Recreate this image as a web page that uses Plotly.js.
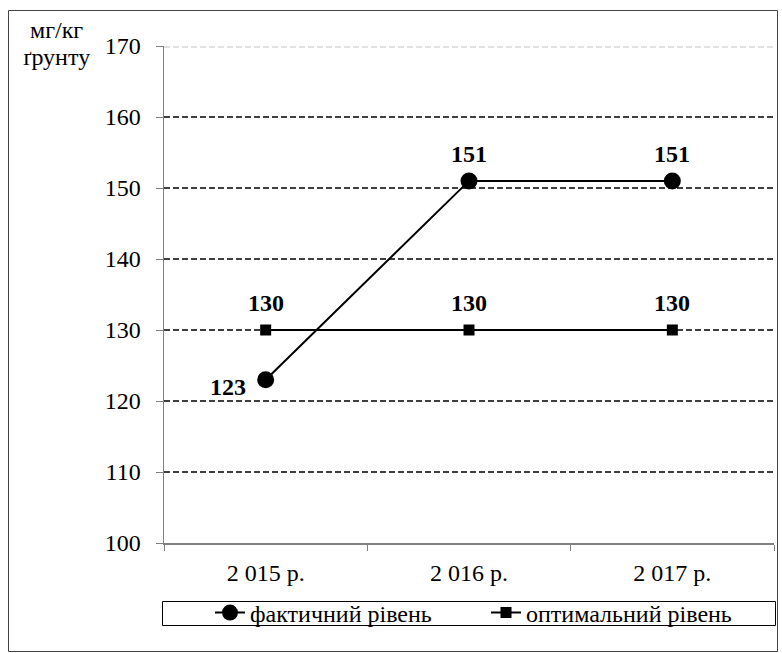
<!DOCTYPE html>
<html><head><meta charset="utf-8">
<script src="https://cdn.plot.ly/plotly-3.0.1.min.js"></script>
<style>html,body{margin:0;padding:0;background:#fff}#chart{width:782px;height:653px}</style>
</head><body><div id="chart"></div>
<script>
const categories = ["2 015 р.", "2 016 р.", "2 017 р."];
const actualName = "фактичний рівень";
const actualValues = [123, 151, 151];
const optimalName = "оптимальний рівень";
const optimalValues = [130, 130, 130];
const yTicks = [100, 110, 120, 130, 140, 150, 160, 170];
const yTitleLines = ["мг/кг", "ґрунту"];

const FONT = "Liberation Serif, Times New Roman, serif";
const W = 782, H = 653, L = 164, R = 8, T = 46, B = 110;
const pw = W - L - R, ph = H - T - B;
const px = v => (v - L) / pw;
const py = v => (H - B - v) / ph;

const traces = [
  {x: categories, y: actualValues, name: actualName, type: "scatter", mode: "lines+markers",
   line: {color: "#000", width: 2}, marker: {symbol: "circle", size: 17, color: "#000"}},
  {x: categories, y: optimalValues, name: optimalName, type: "scatter", mode: "lines+markers",
   line: {color: "#000", width: 2}, marker: {symbol: "square", size: 11, color: "#000"}}
];

const annotations = [];
actualValues.forEach((v, i) => {
  const left = (i === 0 && v < optimalValues[0]);
  annotations.push({x: categories[i], y: v, xref: "x", yref: "y", text: "<b>" + v + "</b>",
    showarrow: false, font: {family: FONT, size: 24, color: "#000"},
    xshift: left ? -38 : 0, yshift: left ? -7 : 27});
});
optimalValues.forEach((v, i) => {
  annotations.push({x: categories[i], y: v, xref: "x", yref: "y", text: "<b>" + v + "</b>",
    showarrow: false, font: {family: FONT, size: 24, color: "#000"}, yshift: 27});
});
yTitleLines.forEach((t, i) => {
  annotations.push({x: px(56), y: py(30 + 27 * i), xref: "paper", yref: "paper", text: t,
    xanchor: "center", yanchor: "middle",
    showarrow: false, font: {family: FONT, size: 24, color: "#000"}});
});

const shapes = [];
yTicks.forEach(t => {
  if (t === yTicks[0]) return;
  if (t === yTicks[yTicks.length - 1]) {
    [-1, 1].forEach(o => shapes.push({type: "line", xref: "paper", yref: "y", ysizemode: "pixel", yanchor: t,
      x0: 0, x1: 1, y0: o, y1: o, line: {color: "#c4c4c4", width: 1, dash: "6px,3px"}, layer: "below"}));
    return;
  }
  shapes.push({type: "line", xref: "paper", yref: "y", x0: 0, x1: 1, y0: t, y1: t,
    line: {color: "#000", width: 1.5, dash: "6px,3px"}, layer: "below"});
});
shapes.push({type: "rect", xref: "paper", yref: "paper", x0: px(162.5), x1: px(775.5), y0: py(625.5), y1: py(601.5),
  line: {color: "#000", width: 1}, fillcolor: "rgba(0,0,0,0)"});
shapes.push({type: "rect", xref: "paper", yref: "paper", x0: px(8.5), x1: px(777.5), y0: py(651.5), y1: py(10.5),
  line: {color: "#444", width: 1}, fillcolor: "rgba(0,0,0,0)"});

const layout = {
  width: W, height: H, margin: {l: L, r: R, t: T, b: B},
  paper_bgcolor: "#fff", plot_bgcolor: "#fff",
  font: {family: FONT, size: 24, color: "#000"},
  showlegend: true,
  legend: {orientation: "h", x: px(210), xanchor: "left", y: py(613), yanchor: "middle",
    font: {family: FONT, size: 24, color: "#000"}, bgcolor: "rgba(0,0,0,0)", entrywidth: 231},
  xaxis: {type: "category", range: [-0.5, 2.5], showgrid: false, zeroline: false, showline: true, linecolor: "#808080", linewidth: 1.5,
    ticks: "outside", tickson: "boundaries", ticklen: 6, tickcolor: "#808080", tickwidth: 1,
    tickfont: {family: FONT, size: 24, color: "#000"}, ticklabelstandoff: 8, fixedrange: true},
  yaxis: {range: [100, 170], tickvals: yTicks, showgrid: false, zeroline: false, showline: true,
    linecolor: "#808080", linewidth: 1.5, ticks: "outside", ticklen: 7, tickcolor: "#808080",
    tickfont: {family: FONT, size: 24, color: "#000"}, ticklabelstandoff: 10},
  annotations: annotations, shapes: shapes
};
Plotly.newPlot("chart", traces, layout, {displayModeBar: false, staticPlot: true});
</script></body></html>
